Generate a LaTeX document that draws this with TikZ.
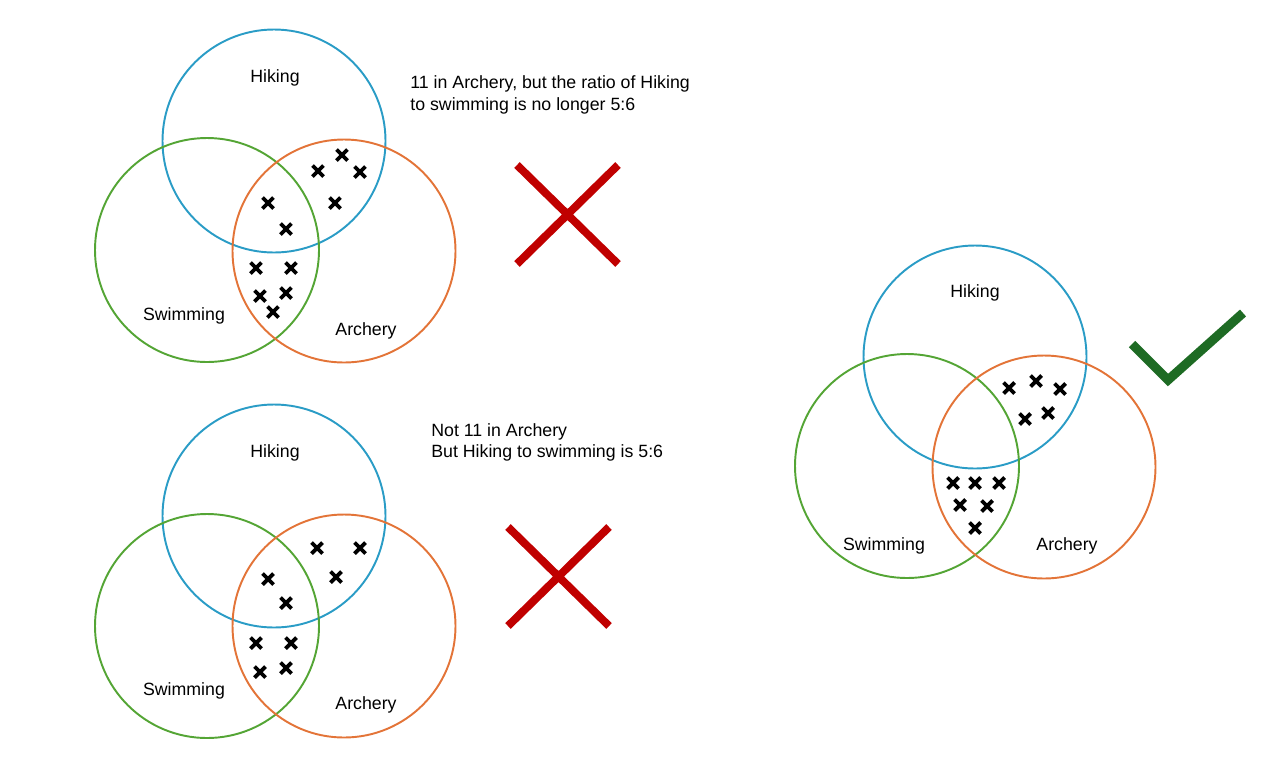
\documentclass[tikz,border=0pt]{standalone}
\usepackage{fontspec}
\setmainfont{Liberation Sans}
\definecolor{hikeblue}{HTML}{2A9CC6}
\definecolor{swimgreen}{HTML}{54A535}
\definecolor{archorange}{HTML}{E37438}
\definecolor{wrongred}{HTML}{C00000}
\definecolor{rightgreen}{HTML}{1E6B24}
\tikzset{
	ring/.style={line width=1.1pt},
	setname/.style={font=\fontsize{10.1}{12}\selectfont, inner sep=0pt, anchor=base},
	note/.style={font=\fontsize{10.1}{12}\selectfont, inner sep=0pt, anchor=base west},
	tally/.pic={\draw[line width=2.2pt] (-5.5,-5.5) -- (5.5,5.5) (-5.5,5.5) -- (5.5,-5.5);}
}

\begin{document}
\begin{tikzpicture}[x=0.02cm, y=-0.02cm]
			%%%%% START %%%%%
			\useasboundingbox (0,0) rectangle (1280,775);
			
			% first try: top left
			\draw[ring, color=hikeblue] (274, 141) circle (111.5);
			\draw[ring, color=swimgreen] (207, 250) circle (112);
			\draw[ring, color=archorange] (344, 251) circle (111.5);
			\node[setname] (hikeA) at (275, 82) {Hiking};
			\node[setname] (swimA) at (184, 320) {Swimming};
			\node[setname] (archA) at (366, 335) {Archery};
			\foreach \p in {(342,155), (318,171), (360,172), (335,203), (268,203), (286,229),
				(256,268), (291,268), (260,296), (286,293), (273,312)}
				\pic at \p {tally};
			\node[note] (noteA1) at (410, 88) {11 in Archery, but the ratio of Hiking};
			\node[note] (noteA2) at (410, 110) {to swimming is no longer 5:6};
			\draw[line width=4.5pt, color=wrongred] (517, 165) -- (618, 264) (618, 165) -- (517, 264);
			
			% second try: bottom left
			\draw[ring, color=hikeblue] (274, 516) circle (111.5);
			\draw[ring, color=swimgreen] (207, 626) circle (112);
			\draw[ring, color=archorange] (344, 626) circle (111.5);
			\node[setname] (hikeB) at (275, 457) {Hiking};
			\node[setname] (swimB) at (184, 695) {Swimming};
			\node[setname] (archB) at (366, 709) {Archery};
			\foreach \p in {(317,548), (360,548), (336,577), (268,579), (286,603),
				(256,643), (291,643), (260,672), (286,668)}
				\pic at \p {tally};
			\node[note] (noteB1) at (431, 436) {Not 11 in Archery};
			\node[note] (noteB2) at (431, 457) {But Hiking to swimming is 5:6};
			\draw[line width=4.5pt, color=wrongred] (508, 527) -- (609, 626) (609, 527) -- (508, 626);
			
			% answer: right
			\draw[ring, color=hikeblue] (975, 357) circle (111.5);
			\draw[ring, color=swimgreen] (907, 466) circle (112);
			\draw[ring, color=archorange] (1044, 467) circle (111.5);
			\node[setname] (hikeC) at (975, 297) {Hiking};
			\node[setname] (swimC) at (884, 550) {Swimming};
			\node[setname] (archC) at (1067, 550) {Archery};
			\foreach \p in {(1009,388), (1036,381), (1060,389), (1025,419), (1048,413),
				(953,483), (975,483), (999,483), (960,505), (987,506), (975,528)}
				\pic at \p {tally};
			\draw[line width=5.2pt, color=rightgreen] (1132, 344) -- (1168, 380) -- (1243, 313);
			
			%%%%% END %%%%%
\end{tikzpicture}
\end{document}
